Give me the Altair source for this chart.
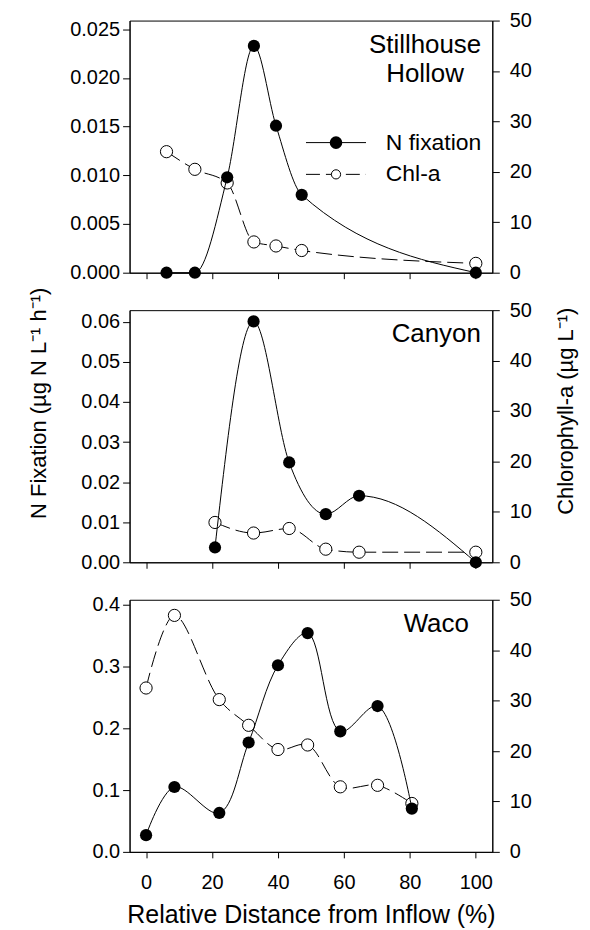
import altair as alt
import pandas as pd

FONT = "Liberation Sans"

# ---------------- data ----------------
x_ticks = [0, 20, 40, 60, 80, 100]

# Stillhouse Hollow
sh_x = [6.2, 14.8, 24.6, 32.7, 39.4, 47.2, 100]
sh_nfix = [0.0, 0.0, 0.0098, 0.0233, 0.0151, 0.0080, 0.0]
sh_chl = [24.0, 20.5, 17.8, 6.1, 5.3, 4.4, 1.85]
sh_ticks = [0.0, 0.005, 0.010, 0.015, 0.020, 0.025]

# Canyon
cy_x = [20.9, 32.6, 43.4, 54.5, 64.6, 100]
cy_nfix = [0.0037, 0.0601, 0.0249, 0.0120, 0.0166, 0.0]
cy_chl = [7.9, 5.8, 6.7, 2.6, 2.0, 2.0]
cy_ticks = [0.0, 0.01, 0.02, 0.03, 0.04, 0.05, 0.06]

# Waco
wa_x = [0, 8.6, 22.2, 31.1, 40.0, 49.0, 58.9, 70.2, 80.6]
wa_nfix = [0.027, 0.105, 0.063, 0.177, 0.302, 0.354, 0.195, 0.236, 0.070]
wa_chl = [32.5, 46.9, 30.2, 25.1, 20.3, 21.2, 12.9, 13.2, 9.6]
wa_ticks = [0.0, 0.1, 0.2, 0.3, 0.4]

chl_ticks = [0, 10, 20, 30, 40, 50]

legend_labels = ["N fixation", "Chl-a"]

LEFT_TITLE = "N Fixation (\u00b5g N L\u207b\u00b9 h\u207b\u00b9)"
RIGHT_TITLE = "Chlorophyll-a (\u00b5g L\u207b\u00b9)"
X_TITLE = "Relative Distance from Inflow (%)"

W, H = 364, 253


def x_enc(field, bottom):
    kw = dict(values=x_ticks, labels=bottom, tickSize=6, labelPadding=15,
              titlePadding=10, grid=False, domainColor="black", titleFontSize=25)
    return alt.X(field, type="quantitative",
                 scale=alt.Scale(domain=[-5, 105], nice=False, zero=False),
                 axis=alt.Axis(**kw),
                 title=X_TITLE if bottom else None)


def panel(xs, nfix, chl, ymax, yticks, yfmt, interp, names, name_x, bottom, middle, legend):
    df = pd.DataFrame({"x": xs, "n": nfix, "chl": chl})

    left_axis = alt.Axis(orient="left", values=yticks, format=yfmt, tickSize=7,
                         labelPadding=3, grid=False,
                         titleAngle=270, titleX=-84, titleY=93,
                         titleBaseline="alphabetic", titleAlign="center")
    right_axis = alt.Axis(orient="right", values=chl_ticks, format="d", tickSize=7,
                          labelPadding=10, grid=False,
                          titleAngle=270, titleX=80, titleY=101,
                          titleBaseline="alphabetic", titleAlign="center")
    yl = alt.Scale(domain=[0, ymax], nice=False, zero=False)
    yr = alt.Scale(domain=[0, 50], nice=False, zero=False)

    def yL(field):
        return alt.Y(field, type="quantitative", scale=yl, axis=left_axis,
                     title=LEFT_TITLE if middle else None)

    def yR(field):
        return alt.Y(field, type="quantitative", scale=yr, axis=right_axis,
                     title=RIGHT_TITLE if middle else None)

    base = alt.Chart(df)
    n_line = base.mark_line(interpolate=interp, color="black", strokeWidth=1).encode(
        x=x_enc("x", bottom), y=yL("n"))
    n_pts = base.mark_point(shape="circle", filled=True, size=150, color="black",
                            opacity=1).encode(x=x_enc("x", bottom), y=yL("n"))
    c_line = base.mark_line(interpolate=interp, color="black", strokeWidth=1,
                            strokeDash=[16, 6]).encode(x=x_enc("x", bottom), y=yR("chl"))
    c_pts = base.mark_point(shape="circle", filled=False, fill="white", fillOpacity=1,
                            stroke="black", strokeWidth=1, size=150,
                            opacity=1).encode(x=x_enc("x", bottom), y=yR("chl"))

    name_df = pd.DataFrame({"label": names,
                            "x": [name_x] * len(names),
                            "y": [43.6 - 5.8 * i for i in range(len(names))]})
    name_txt = alt.Chart(name_df).mark_text(font=FONT, fontSize=26, align="center",
                                            baseline="alphabetic", color="black").encode(
        x=x_enc("x", bottom), y=yR("y"), text="label:N")

    right_layers = [c_line, c_pts, name_txt]

    if legend:
        leg = pd.DataFrame({"label": legend_labels,
                            "x1": [48.5, 48.5], "x2": [66.7, 66.7],
                            "xm": [57.6, 57.6], "xt": [72.7, 72.7],
                            "y": [25.8, 19.5]})
        lb = alt.Chart(leg)
        leg_solid = lb.transform_filter(alt.datum.label == "N fixation").mark_rule(
            color="black", strokeWidth=1).encode(
            x=x_enc("x1", bottom), x2="x2:Q", y=yR("y"))
        leg_dash = lb.transform_filter(alt.datum.label == "Chl-a").mark_rule(
            color="black", strokeWidth=1, strokeDash=[14, 6]).encode(
            x=x_enc("x1", bottom), x2="x2:Q", y=yR("y"))
        leg_fill = lb.transform_filter(alt.datum.label == "N fixation").mark_point(
            shape="circle", filled=True, size=160, color="black", opacity=1).encode(
            x=x_enc("xm", bottom), y=yR("y"))
        leg_open = lb.transform_filter(alt.datum.label == "Chl-a").mark_point(
            shape="circle", filled=False, fill="white", fillOpacity=1, stroke="black",
            strokeWidth=1, size=85, opacity=1).encode(
            x=x_enc("xm", bottom), y=yR("y"))
        leg_txt = lb.mark_text(font=FONT, fontSize=23, align="left", baseline="middle",
                               color="black").encode(
            x=x_enc("xt", bottom), y=yR("y"), text="label:N")
        right_layers += [leg_solid, leg_dash, leg_fill, leg_open, leg_txt]

    B = alt.layer(*right_layers)
    A = alt.layer(n_line, n_pts)
    return alt.layer(B, A).resolve_scale(y="independent").properties(width=W, height=H)


p1 = panel(sh_x, sh_nfix, sh_chl, 0.0259, sh_ticks, ".3f", "monotone",
           ["Stillhouse", "Hollow"], 84.6, bottom=False, middle=False, legend=True)
p2 = panel(cy_x, cy_nfix, cy_chl, 0.0629, cy_ticks, ".2f", "monotone",
           ["Canyon"], 88.0, bottom=False, middle=True, legend=False)
p3 = panel(wa_x, wa_nfix, wa_chl, 0.408, wa_ticks, ".1f", "catmull-rom",
           ["Waco"], 88.0, bottom=True, middle=False, legend=False)

chart = alt.vconcat(p1, p2, p3, spacing=37.6, bounds="flush").properties(
    padding={"left": 19, "top": 0, "right": 5, "bottom": 5}
).configure_axis(
    labelFont=FONT, labelFontSize=20, labelColor="black",
    domainColor="black", tickColor="black", domainWidth=1, tickWidth=1,
    titleFont=FONT, titleFontSize=22, titleColor="black", titleFontWeight="normal"
).configure_view(stroke="black", strokeWidth=1)

chart.save("out.html", embed_options={"renderer": "svg", "actions": False})
